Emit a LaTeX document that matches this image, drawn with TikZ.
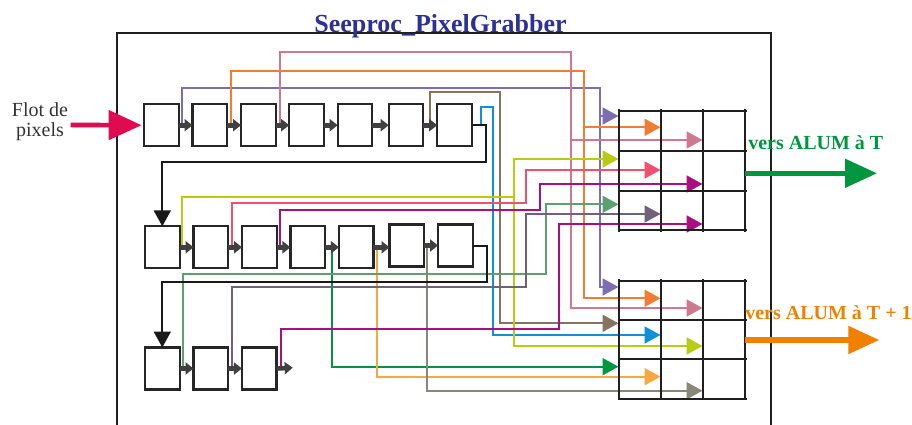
\documentclass[tikz,border=0pt]{standalone}
\usepackage{fontspec}
\setmainfont{Liberation Serif}
\usetikzlibrary{arrows.meta,calc}
\definecolor{cPurple}{RGB}{125,110,180}
\definecolor{cOrange}{RGB}{240,125,50}
\definecolor{cMauve}{RGB}{208,120,144}
\definecolor{cBrown}{RGB}{133,117,96}
\definecolor{cBlue}{RGB}{16,144,216}
\definecolor{cYG}{RGB}{184,204,20}
\definecolor{cRedPink}{RGB}{240,80,112}
\definecolor{cMagenta}{RGB}{168,16,127}
\definecolor{cSeaGreen}{RGB}{95,160,112}
\definecolor{cGrayPurple}{RGB}{112,96,120}
\definecolor{cGreen}{RGB}{0,150,64}
\definecolor{cLightOrange}{RGB}{248,168,64}
\definecolor{cGray}{RGB}{136,136,120}
\definecolor{cIn}{RGB}{224,10,80}
\definecolor{cOutGreen}{RGB}{0,150,63}
\definecolor{cOutOrange}{RGB}{240,128,0}
\definecolor{cTitle}{RGB}{46,49,146}
\tikzset{
  pbox/.style={draw=black!85, line width=1.6pt, fill=white, minimum width=25.9pt, minimum height=31.5pt, inner sep=0pt, outer sep=0pt},
  shiftarr/.style={draw=black!75, line width=3.5pt, -{Triangle[length=6pt,width=9pt]}},
  feed/.style={line width=1.5pt, -{Triangle[length=12pt,width=12.75pt]}},
  blk/.style={draw=black!90, line width=1.5pt, -{Triangle[length=12pt,width=12.75pt]}},
  gridline/.style={draw=black!88, line width=1.5pt},
  outlabel/.style={font=\fontsize{15}{18}\selectfont\bfseries, anchor=base west, inner sep=0pt},
}
\begin{document}
\begin{tikzpicture}[x=0.75pt,y=-0.75pt]
\useasboundingbox (0,0) rectangle (912,424);
% module frame
\draw[draw=black!88, line width=1.5pt] (117,440) -- (117,33) -- (771,33) -- (771,440);
\node[font=\fontsize{19.5}{23}\selectfont\bfseries, text=cTitle, anchor=base, inner sep=0pt] (title) at (440.5,32.6) {Seeproc\_PixelGrabber};
% input label
\node[font=\fontsize{15}{15}\selectfont, text=black!80, align=center, inner sep=0pt] (flot) at (40,122) {Flot de\\pixels};
% row 1 boxes
\foreach \i/\x in {1/161.5,2/209.8,3/258.3,4/306.5,5/355,6/406,7/454.5}
  \node[pbox] (r1b\i) at (\x,125.2) {};
% row 2 boxes
\foreach \i/\x/\y in {1/162.3/247.3,2/210.8/247.3,3/259.3/247.3,4/307.7/247.3,5/356.2/247.3,6/406.8/245.5,7/455.3/245.5}
  \node[pbox] (r2b\i) at (\x,\y) {};
% row 3 boxes
\foreach \i/\x in {1/162.3,2/210.8,3/259.2}
  \node[pbox] (r3b\i) at (\x,368.5) {};
\coordinate (r3out) at (292.7,367.7);
% input arrow
\coordinate (inS) at (70.7,125);
\draw[draw=cIn, line width=3.5pt, -{Triangle[length=24.75pt,width=21.75pt]}] (inS) -- ($(r1b1.west)+(-2.6,0)$);

% ---------- colored feeds ----------
% purple
\draw[feed, draw=cPurple] (182,125) |- (600,87.7) |- (618.5,287);
\draw[feed, draw=cPurple] (600,116) -- (618.5,116);
% orange
\draw[feed, draw=cOrange] (231,125) |- (584.3,71) |- (660.5,298.3);
\draw[feed, draw=cOrange] (584.3,127.3) -- (660.5,127.3);
% mauve
\draw[feed, draw=cMauve] (280,125) |- (570.8,52) |- (702.5,308);
\draw[feed, draw=cMauve] (570.8,140) -- (702.5,140);
% brown
\draw[feed, draw=cBrown] (430,125) |- (500.3,92.3) |- (618.5,323.3);
% blue
\draw[feed, draw=cBlue] (480.7,125) |- (492.8,106.8) |- (660.5,335);
% yellow-green
\draw[feed, draw=cYG] (182.3,247) |- (514.3,196.7) |- (702.5,346);
\draw[feed, draw=cYG] (514.3,196.7) |- (618.5,159);
% red-pink
\draw[feed, draw=cRedPink] (232.3,247) |- (526,203.3) |- (660.5,170);
% magenta
\draw[feed, draw=cMagenta] (280.3,247) |- (540,210) |- (702.5,184);
% green
\draw[feed, draw=cGreen] (331.7,247) |- (618.5,366.7);
% light orange
\draw[feed, draw=cLightOrange] (377,246) |- (660.5,376.7);
% gray
\draw[feed, draw=cGray] (426.7,245.7) |- (702.5,390.7);
% sea-green
\draw[feed, draw=cSeaGreen] (182.7,367.7) |- (546,273.7) |- (618.5,204.3);
% gray-purple
\draw[feed, draw=cGrayPurple] (232.3,367.7) |- (526,286.5) |- (660.5,214);
% magenta 2
\draw[feed, draw=cMagenta] (280.7,367.7) |- (559.3,329) |- (702.5,224);

% shift arrows
\foreach \a/\b in {1/2,2/3,3/4,4/5,5/6,6/7}
  \draw[shiftarr] (r1b\a.east) -- (r1b\a.east -| r1b\b.west);
\foreach \a/\b in {1/2,2/3,3/4,4/5,5/6,6/7}
  \draw[shiftarr] (r2b\a.east) -- (r2b\a.east -| r2b\b.west);
\foreach \a/\b in {1/2,2/3}
  \draw[shiftarr] (r3b\a.east) -- (r3b\a.east -| r3b\b.west);
\draw[shiftarr] (r3b3.east) -- (r3out);

% row wrap connectors
\draw[blk] (r1b7.east) -| (485.7,161.7) -| (r2b1.north);
\draw[blk] (r2b7.east) -| (486.7,281.7) -| (r3b1.north);

% grids
\foreach \x in {619,661,703,745} \draw[gridline] (\x,109.5) -- (\x,231.5);
\foreach \y in {111,151,190.5,230} \draw[gridline] (617.5,\y) -- (746.5,\y);
\foreach \x in {619,661,703,745} \draw[gridline] (\x,279) -- (\x,400);
\foreach \y in {280.5,319.5,359,398.5} \draw[gridline] (617.5,\y) -- (746.5,\y);
\node[inner sep=0pt, minimum width=94.5pt, minimum height=89.25pt] (g1) at (682,170.5) {};
\node[inner sep=0pt, minimum width=94.5pt, minimum height=88.5pt] (g2) at (682,339.5) {};

% outputs
\coordinate (o1) at (877,173.3);
\coordinate (o2) at (879.3,340);
\draw[draw=cOutGreen, line width=3.75pt, -{Triangle[length=24pt,width=21pt]}] (g1.east |- o1) -- (o1);
\draw[draw=cOutOrange, line width=4pt, -{Triangle[length=23.25pt,width=20.25pt]}] (g2.east |- o2) -- (o2);
\node[outlabel, text=cOutGreen] (lt) at (748,149.3) {vers ALUM à T};
\node[outlabel, text=cOutOrange] (lt1) at (745,319.3) {vers ALUM à T + 1};
\end{tikzpicture}
\end{document}
